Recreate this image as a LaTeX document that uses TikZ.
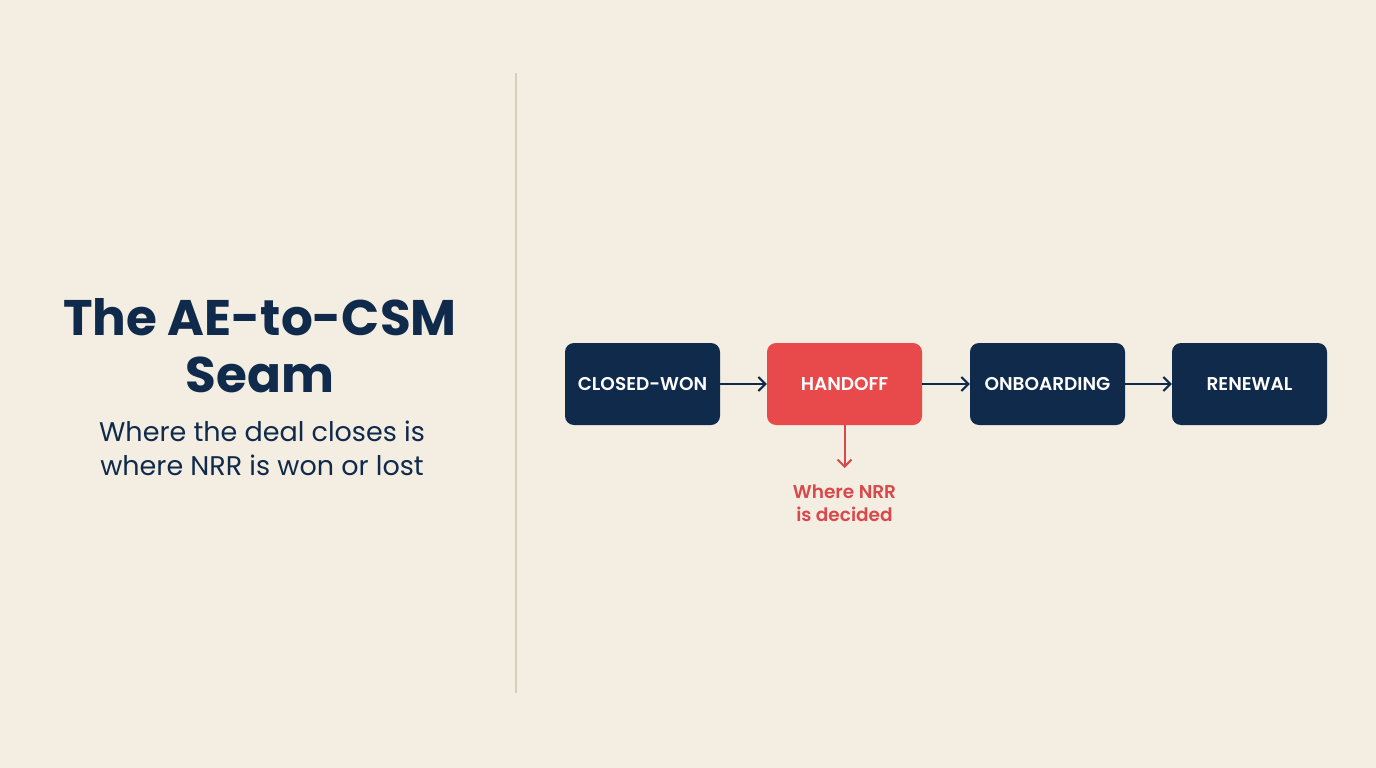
\documentclass[tikz,border=0pt]{standalone}
\usepackage{fontspec}
\setmainfont{Poppins}
\newfontfamily\semibold{Poppins SemiBold}
\usetikzlibrary{arrows.meta}
\definecolor{bg}{HTML}{F3EDE2}
\definecolor{navy}{HTML}{0F2A4A}
\definecolor{redbox}{HTML}{E84A4B}
\definecolor{redtxt}{HTML}{D9484A}
\definecolor{divider}{HTML}{D9CCB8}
\tikzset{
  stage/.style={rounded corners=9pt, minimum width=155pt, minimum height=82pt, inner sep=0pt,
    text=white, font=\fontsize{18.5}{22}\selectfont\semibold},
  navybox/.style={stage, fill=navy},
  redstage/.style={stage, fill=redbox},
  flow/.style={draw=navy, line width=2pt, -{Straight Barb[length=7pt,width=14pt,line width=2pt]}},
  redflow/.style={draw=redtxt, line width=2pt, -{Straight Barb[length=7pt,width=14pt,line width=2pt]}},
}
\begin{document}
\begin{tikzpicture}[x=1pt,y=-1pt]
\fill[bg] (0,0) rectangle (1376,768);
\useasboundingbox (0,0) rectangle (1376,768);
\draw[divider, line width=2pt] (516,73) coordinate (dtop) -- (516,693) coordinate (dbot);
\node[text=navy, align=center, font=\fontsize{50}{57}\selectfont\bfseries] (title) at (260,346) {The AE-to-CSM\\Seam};
\node[text=navy, align=center, font=\fontsize{27}{34}\selectfont] (sub) at (262,448) {Where the deal closes is\\where NRR is won or lost};
\node[navybox] (cw) at (642.5,384) {CLOSED-WON};
\node[redstage] (ho) at (844.5,384) {HANDOFF};
\node[navybox] (ob) at (1047.5,384) {ONBOARDING};
\node[navybox] (rn) at (1249.5,384) {RENEWAL};
\draw[flow] (cw) -- (ho);
\draw[flow] (ho) -- (ob);
\draw[flow] (ob) -- (rn);
\coordinate (dn) at (844.5,468);
\draw[redflow] (ho.south) -- (dn);
\node[text=redtxt, align=center, font=\fontsize{18.5}{23}\selectfont\semibold] (lbl) at (844.5,503) {Where NRR\\is decided};
\end{tikzpicture}
\end{document}
